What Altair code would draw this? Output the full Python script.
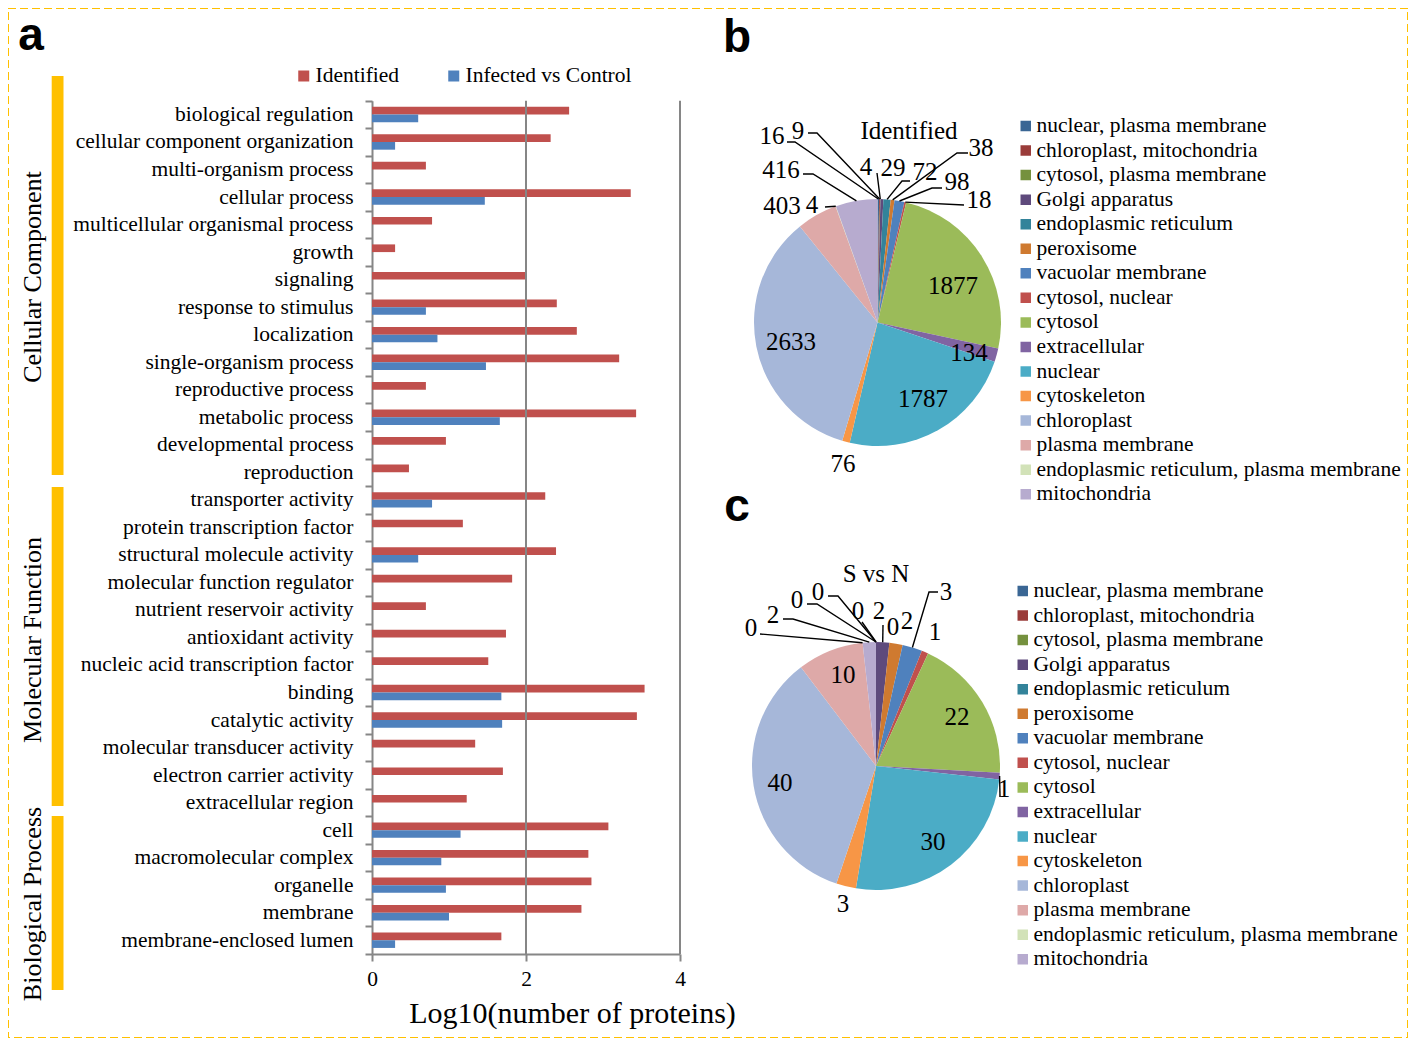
import math
import altair as alt
import pandas as pd

SERIF = "Liberation Serif"
SANS = "Liberation Sans"
GRAY = "#868686"
GOLD = "#FFC000"
O = 8            # page margin: view coords = page coords - O
W, H = 1400, 1030

# ---------------- data ----------------
categories = [
    "biological regulation", "cellular component organization", "multi-organism process",
    "cellular process", "multicellular organismal process", "growth", "signaling",
    "response to stimulus", "localization", "single-organism process", "reproductive process",
    "metabolic process", "developmental process", "reproduction", "transporter activity",
    "protein  transcription factor", "structural molecule activity", "molecular function regulator",
    "nutrient reservoir activity", "antioxidant activity", "nucleic acid transcription factor",
    "binding", "catalytic activity", "molecular transducer activity", "electron carrier activity",
    "extracellular region", "cell", "macromolecular complex", "organelle", "membrane",
    "membrane-enclosed lumen",
]
identified_log = [2.56, 2.32, 0.70, 3.36, 0.78, 0.30, 1.99, 2.40, 2.66, 3.21, 0.70, 3.43, 0.96, 0.48,
                  2.25, 1.18, 2.39, 1.82, 0.70, 1.74, 1.51, 3.54, 3.44, 1.34, 1.70, 1.23,
                  3.07, 2.81, 2.85, 2.72, 1.68]
infected_log = [0.60, 0.30, None, 1.465, None, None, None, 0.70, 0.85, 1.48, None, 1.66, None, None,
                0.78, None, 0.60, None, None, None, None, 1.68, 1.69, None, None, None,
                1.15, 0.90, 0.96, 1.00, 0.30]
series = ["Identified", "Infected vs Control"]
series_colors = ["#C0504D", "#4F81BD"]
x_ticks = [0, 2, 4]

groups = ["Cellular Component", "Molecular Function", "Biological Process"]

locations = [
    "nuclear, plasma membrane", "chloroplast, mitochondria", "cytosol, plasma membrane",
    "Golgi apparatus", "endoplasmic reticulum", "peroxisome", "vacuolar membrane",
    "cytosol, nuclear", "cytosol", "extracellular", "nuclear", "cytoskeleton", "chloroplast",
    "plasma membrane", "endoplasmic reticulum, plasma membrane", "mitochondria",
]
identified_counts = [16, 9, 4, 29, 72, 38, 98, 18, 1877, 134, 1787, 76, 2633, 403, 4, 416]
svn_counts = [0, 0, 0, 2, 0, 2, 3, 1, 22, 1, 30, 3, 40, 10, 0, 2]
location_colors = [
    "#3A6694", "#9A3C3A", "#75913E", "#5E4A7C", "#33839A", "#CF7A30", "#4F81BD", "#C0504D",
    "#9BBB59", "#8064A2", "#4BACC6", "#F79646", "#A6B7D9", "#DEA9A8", "#D2E2B8", "#B7ABCF",
]

# ---------------- layout (page pixels) ----------------
X0, X1 = 372 - O, 680 - O          # bar chart value range
Y0, Y1 = 100.7 - O, 954 - O        # bar chart category range
CXB, CYB, RB = 877.5 - O, 322.5 - O, 123.5
CXC, CYC, RC = 876 - O, 766 - O, 124

group_bar_y = [(76, 475), (487, 806), (816, 990)]
group_text_y = [277, 640, 904]

b_label_pos = [(772, 136), (798, 131), (866, 167), (893, 168), (925, 172), (981, 148),
               (957, 182), (979, 200), (953, 286), (969, 353), (923, 399), (843, 464),
               (791, 342), (782, 206), (812, 205), (781, 170)]
b_leaders = {0: [(787, 142), (795, 142)], 1: [(808, 133), (817, 133)], 2: [(877, 173)],
             4: [(910, 181), (902, 181)], 5: [(968, 153), (957, 153)],
             6: [(942, 188), (932, 188)], 7: [(964, 205)], 14: [(825, 207)],
             15: [(803, 174), (813, 174)]}
c_label_pos = [(797, 600), (818, 592), (858, 611), (879, 611), (893, 627), (907, 621),
               (946, 592), (935, 632), (957, 717), (1004, 789), (933, 842), (843, 904),
               (780, 783), (843, 675), (751, 628), (773, 615)]
c_leaders = {0: [(807, 604), (817, 604)], 1: [(828, 596), (838, 596)], 2: [(862, 622)],
             3: [(883, 625)], 6: [(938, 592), (929, 592)], 9: [(1000, 797)],
             14: [(760, 634)], 15: [(783, 619), (793, 619)]}


def slice_edge(counts, i, cx, cy, r):
    total = float(sum(counts))
    mid = sum(counts[:i]) + counts[i] / 2.0
    a = 2 * math.pi * mid / total
    return cx + r * math.sin(a), cy - r * math.cos(a)


# ---------------- tables ----------------
bar_rows = []
for c, a, b in zip(categories, identified_log, infected_log):
    bar_rows.append({"category": c, "series": series[0], "value": a})
    if b is not None:
        bar_rows.append({"category": c, "series": series[1], "value": b})
bar_df = pd.DataFrame(bar_rows)
grid_df = pd.DataFrame({"value": x_ticks[1:]})

pie_b_df = pd.DataFrame({"location": locations, "count": identified_counts, "idx": range(16)})
pie_c_df = pd.DataFrame({"location": locations, "count": svn_counts, "idx": range(16)})

label_rows = []
for counts, pos in ((identified_counts, b_label_pos), (svn_counts, c_label_pos)):
    for v, (px, py) in zip(counts, pos):
        label_rows.append({"text": str(v), "x": px - O, "y": py - O})
label_df = pd.DataFrame(label_rows)

leader_rows = []
for tag, counts, leaders, cx, cy, r in (("b", identified_counts, b_leaders, CXB, CYB, RB),
                                          ("c", svn_counts, c_leaders, CXC, CYC, RC)):
    for i, pts in leaders.items():
        path = [(px - O, py - O) for px, py in pts] + [slice_edge(counts, i, cx, cy, r)]
        for k, (px, py) in enumerate(path):
            leader_rows.append({"id": f"{tag}{i}", "k": k, "x": px, "y": py})
leader_df = pd.DataFrame(leader_rows)

group_df = pd.DataFrame({
    "group": groups,
    "y0": [a - O for a, _ in group_bar_y],
    "y1": [b - O for _, b in group_bar_y],
    "ty": [t - O for t in group_text_y],
})
letter_df = pd.DataFrame({"letter": ["a", "b", "c"],
                          "x": [31 - O, 737 - O, 737 - O],
                          "y": [50 - O, 52 - O, 521 - O]})
title_df = pd.DataFrame({"text": ["Identified", "S vs N"],
                         "x": [909 - O, 876 - O], "y": [131 - O, 574 - O]})

# ---------------- bar chart ----------------
xenc = alt.X("value:Q",
             scale=alt.Scale(domain=[0, 4], range=[X0, X1], nice=False, zero=True),
             axis=alt.Axis(values=x_ticks, grid=False, orient="bottom", offset=(954 - O) - H,
                           tickSize=7, tickWidth=2, tickColor=GRAY, domainColor=GRAY,
                           domainWidth=2, labelFont=SERIF, labelFontSize=21.5,
                           labelColor="black", labelPadding=7, labelFlush=False,
                           title="Log10(number of proteins)", titleFont=SERIF,
                           titleFontSize=30, titleFontWeight="normal", titleColor="black",
                           titleX=572 - O, titleY=1013 - 954, titleAlign="center",
                           titleBaseline="middle"))
yenc = alt.Y("category:N", sort=categories,
             scale=alt.Scale(domain=categories, range=[Y0, Y1], paddingInner=0, paddingOuter=0),
             axis=alt.Axis(orient="left", offset=-X0, tickBand="extent", tickSize=7,
                           tickWidth=2, tickColor=GRAY, domainColor=GRAY, domainWidth=2,
                           labelFont=SERIF, labelFontSize=21.5, labelColor="black",
                           labelPadding=12, labelLimit=500, title=None, grid=False))

bars = alt.Chart(bar_df).mark_bar().encode(
    x=xenc, y=yenc,
    yOffset=alt.YOffset("series:N", scale=alt.Scale(domain=series, paddingOuter=0.79,
                                                    paddingInner=0)),
    color=alt.Color("series:N", scale=alt.Scale(domain=series, range=series_colors),
                    legend=alt.Legend(title=None, orient="none", legendX=293 - O,
                                      legendY=76 - O - 11, direction="horizontal",
                                      symbolType="square", symbolSize=121,
                                      symbolStrokeWidth=0, labelFont=SERIF,
                                      labelFontSize=21.5, labelColor="black",
                                      labelLimit=500, labelOffset=1, columnPadding=43,
                                      clipHeight=22, padding=0)),
)
grid = alt.Chart(grid_df).mark_rule(color=GRAY, strokeWidth=2).encode(
    x=xenc, y=alt.value(Y0), y2=alt.value(Y1))
bar_layer = alt.layer(bars, grid)


# ---------------- pies ----------------
def pie_legend(lx, ly):
    return alt.Legend(title=None, orient="none", legendX=lx, legendY=ly, symbolType="square",
                      symbolSize=110, symbolStrokeWidth=0, labelFont=SERIF, labelFontSize=21.5,
                      labelColor="black", labelLimit=500, labelOffset=0, rowPadding=2.55,
                      clipHeight=22, padding=0)


def pie(df, cx, cy, r, lx, ly):
    return alt.Chart(df).mark_arc(radius=r).encode(
        theta=alt.Theta("count:Q", stack=True),
        order=alt.Order("idx:Q"),
        color=alt.Color("location:N", scale=alt.Scale(domain=locations, range=location_colors),
                        legend=pie_legend(lx, ly)),
        x=alt.value(cx), y=alt.value(cy),
    )


arc_b = pie(pie_b_df, CXB, CYB, RB, 1015 - O, 126 - O - 11)
arc_c = pie(pie_c_df, CXC, CYC, RC, 1012 - O, 591 - O - 11)

px = alt.X("x:Q", scale=None, axis=None)
py = alt.Y("y:Q", scale=None, axis=None)

leaders = alt.Chart(leader_df).mark_line(color="black", strokeWidth=1.4).encode(
    x=px, y=py, detail="id:N", order="k:Q")
labels = alt.Chart(label_df).mark_text(font=SERIF, fontSize=25, color="black").encode(
    x=px, y=py, text="text:N")
titles = alt.Chart(title_df).mark_text(font=SERIF, fontSize=25, color="black").encode(
    x=px, y=py, text="text:N")

# ---------------- decorations ----------------
group_rects = alt.Chart(group_df).mark_rect(color=GOLD).encode(
    x=alt.value(51.7 - O), x2=alt.value(63.5 - O),
    y=alt.Y("y0:Q", scale=None, axis=None), y2="y1:Q")
group_texts = alt.Chart(group_df).mark_text(font=SERIF, fontSize=26, color="black",
                                            angle=270).encode(
    x=alt.value(33 - O), y=alt.Y("ty:Q", scale=None, axis=None), text="group:N")
letters = alt.Chart(letter_df).mark_text(font=SANS, fontWeight="bold", fontSize=46,
                                         color="black", baseline="alphabetic").encode(
    x=px, y=py, text="letter:N")

chart = alt.layer(
    bar_layer, arc_b, arc_c, leaders, labels, titles, group_rects, group_texts, letters
).resolve_scale(
    x="independent", y="independent", color="independent", theta="independent"
).properties(
    width=W, height=H, padding=0, autosize=alt.AutoSizeParams(type="none")
).configure_view(stroke=GOLD, strokeWidth=2, strokeDash=[8, 4])

chart.save("out.html", embed_options={"renderer": "svg", "actions": False})
